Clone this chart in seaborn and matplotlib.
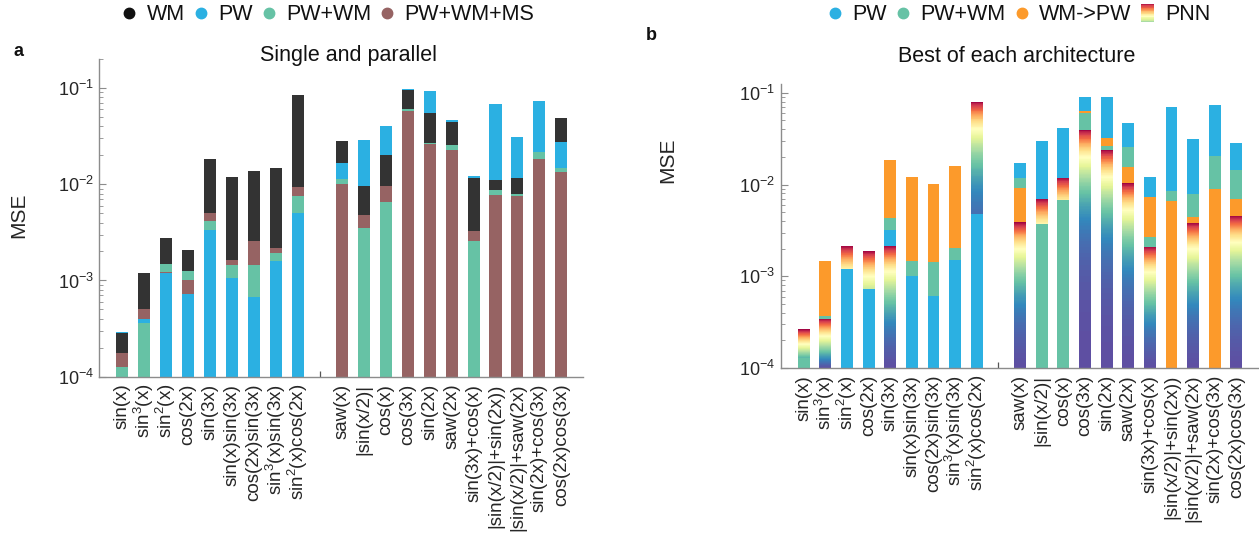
import numpy as np
import pandas as pd
import matplotlib
matplotlib.use("Agg")
import matplotlib.pyplot as plt
import seaborn as sns
from matplotlib.lines import Line2D
from matplotlib.patches import Rectangle
from matplotlib.legend_handler import HandlerBase
from matplotlib.ticker import LogLocator, NullFormatter, LogFormatterSciNotation

# ---------------------------------------------------------------- data
funcs_single = ['sin(x)', 'sin$^3$(x)', 'sin$^2$(x)', 'cos(2x)', 'sin(3x)',
                'sin(x)sin(3x)', 'cos(2x)sin(3x)', 'sin$^3$(x)sin(3x)',
                'sin$^2$(x)cos(2x)']
funcs_parallel = ['saw(x)', '|sin(x/2)|', 'cos(x)', 'cos(3x)', 'sin(2x)',
                  'saw(2x)', 'sin(3x)+cos(x)', '|sin(x/2)|+sin(2x))',
                  '|sin(x/2)|+saw(2x)', 'sin(2x)+cos(3x)', 'cos(2x)cos(3x)']
nan = np.nan

# panel a: single and parallel
a_wm = [2.85e-4, 1.20e-3, 2.73e-3, 2.05e-3, 1.82e-2, 1.19e-2, 1.36e-2, 1.49e-2, 8.39e-2,
        2.83e-2, 9.55e-3, 2.01e-2, 9.61e-2, 5.53e-2, 4.46e-2, 1.15e-2, 1.11e-2, 1.17e-2, nan, 4.87e-2]
a_pw = [2.92e-4, 3.94e-4, 1.19e-3, 7.20e-4, 3.36e-3, 1.05e-3, 6.80e-4, 1.60e-3, 5.05e-3,
        1.67e-2, 2.90e-2, 4.06e-2, 9.84e-2, 9.38e-2, 4.68e-2, 1.21e-2, 6.87e-2, 3.07e-2, 7.32e-2, 2.72e-2]
a_pw_wm = [1.27e-4, 3.64e-4, 1.49e-3, 1.25e-3, 4.13e-3, 1.44e-3, 1.44e-3, 1.95e-3, 7.58e-3,
           1.14e-2, 3.49e-3, 6.52e-3, 6.10e-2, 2.70e-2, 2.55e-2, 2.56e-3, 8.75e-3, 7.94e-3, 2.16e-2, 1.48e-2]
a_pw_wm_ms = [1.77e-4, 5.00e-4, 1.21e-3, 1.02e-3, 5.08e-3, 1.65e-3, 2.56e-3, 2.20e-3, 9.25e-3,
              1.00e-2, 4.77e-3, 9.55e-3, 5.72e-2, 2.61e-2, 2.25e-2, 3.30e-3, 7.70e-3, 7.46e-3, 1.85e-2, 1.33e-2]

# panel b: best of each architecture
b_pw = [nan, nan, 1.20e-3, 7.21e-4, 3.23e-3, 1.01e-3, 6.09e-4, 1.51e-3, 4.79e-3,
        1.72e-2, 2.99e-2, 4.15e-2, 8.98e-2, 8.98e-2, 4.67e-2, 1.22e-2, 6.98e-2, 3.15e-2, 7.40e-2, 2.82e-2]
b_pw_wm = [1.28e-4, 3.72e-4, nan, nan, 4.33e-3, 1.45e-3, 1.43e-3, 2.02e-3, nan,
           1.17e-2, 3.73e-3, 6.86e-3, 6.05e-2, 2.64e-2, 2.55e-2, 2.71e-3, 8.46e-3, 7.98e-3, 2.06e-2, 1.46e-2]
b_wm_to_pw = [nan, 1.47e-3, nan, nan, 1.86e-2, 1.20e-2, 1.02e-2, 1.61e-2, nan,
              9.12e-3, nan, nan, 6.41e-2, 3.26e-2, 1.56e-2, 7.28e-3, 6.64e-3, 4.44e-3, 8.89e-3, 6.92e-3]
b_pnn = [2.64e-4, 3.45e-4, 2.14e-3, 1.89e-3, 2.14e-3, nan, nan, nan, 8.03e-2,
         3.88e-3, 6.98e-3, 1.19e-2, 3.95e-2, 2.39e-2, 1.04e-2, 2.11e-3, nan, 3.85e-3, nan, 4.59e-3]

GAP = ' '
order = funcs_single + [GAP] + funcs_parallel
funcs = funcs_single + funcs_parallel

colors = {'WM': '#333333', 'PW': '#2bb0e2', 'PW+WM': '#66c2a5',
          'PW+WM+MS': '#966363', 'WM->PW': '#fc9a2b', 'PNN': '#d53e4f'}
YMIN = 1e-4


def long_table(series):
    rows = []
    for method, vals in series.items():
        for f, v in zip(funcs, vals):
            if np.isfinite(v):
                rows.append({'func': f, 'method': method, 'mse': v})
    return pd.DataFrame(rows)


df_a = long_table({'WM': a_wm, 'PW': a_pw, 'PW+WM': a_pw_wm, 'PW+WM+MS': a_pw_wm_ms})
df_b = long_table({'PW': b_pw, 'PW+WM': b_pw_wm, 'WM->PW': b_wm_to_pw, 'PNN': b_pnn})

# ---------------------------------------------------------------- style
sns.set_theme(style='white')
plt.rcParams['font.family'] = ['Liberation Sans', 'DejaVu Sans']
plt.rcParams['mathtext.default'] = 'regular'
TEXT = '#262626'
AXC = '#8c8c8c'

fig = plt.figure(figsize=(12.59, 5.33), dpi=100)
W, H = 1259, 533
ax_a = fig.add_axes([99.3 / W, 1 - 376.7 / H, 484 / W, 317.7 / H])
ax_b = fig.add_axes([781 / W, 1 - 368 / H, 477 / W, 284 / H])


def draw_panel(ax, df, methods, ytop):
    sns.barplot(data=df, x='func', y='mse', hue='method', order=order,
                hue_order=methods, palette={m: colors[m] for m in methods},
                dodge=False, width=0.55, saturation=1, errorbar=None,
                legend=False, ax=ax)
    ax.set_yscale('log')
    ax.set_ylim(YMIN, ytop)
    ax.set_xlim(-1.05, 21)

    pnn_rgb = np.array(matplotlib.colors.to_rgb(colors['PNN']))
    cmap = plt.get_cmap('Spectral_r')
    for p in list(ax.patches):
        h = p.get_height()
        if not np.isfinite(h) or h <= 0:
            continue
        # taller bars go behind, so every value shows as a band
        z = 1 + (-np.log10(h)) / 10
        p.set_zorder(z)
        p.set_linewidth(0)
        if 'PNN' in methods and np.allclose(p.get_facecolor()[:3], pnn_rgb):
            x0, w = p.get_x(), p.get_width()
            yedges = np.geomspace(YMIN, h, 300)
            yc = np.sqrt(yedges[:-1] * yedges[1:])
            c = ((yc - YMIN) / (h - YMIN)).reshape(-1, 1)
            ax.pcolormesh([x0, x0 + w], yedges, c, cmap=cmap, vmin=0, vmax=1,
                          shading='flat', edgecolors='none', antialiased=False,
                          zorder=z + 1e-5)
            p.set_alpha(0)

    ax.set_xticks(range(len(order)))
    ax.set_xticklabels(order, rotation=90, fontsize=13.5, color=TEXT)
    ax.set_xlabel('')
    ax.set_ylabel('')
    ax.yaxis.set_major_locator(LogLocator(base=10, numticks=10))
    ax.yaxis.set_major_formatter(LogFormatterSciNotation())
    ax.yaxis.set_minor_locator(LogLocator(base=10, subs=np.arange(2, 10), numticks=20))
    ax.yaxis.set_minor_formatter(NullFormatter())
    ax.tick_params(axis='x', which='major', bottom=True, direction='in', length=4,
                   width=0.9, color='#555555', pad=5, labelcolor=TEXT)
    ax.tick_params(axis='x', which='minor', bottom=False)
    ax.tick_params(axis='y', which='major', left=True, direction='in', length=5,
                   width=0.8, color=AXC, pad=4, labelsize=13, labelcolor=TEXT)
    ax.tick_params(axis='y', which='minor', left=True, direction='in', length=3,
                   width=0.6, color=AXC)
    for s in ('top', 'right'):
        ax.spines[s].set_visible(False)
    for s in ('left', 'bottom'):
        ax.spines[s].set_color(AXC)
        ax.spines[s].set_linewidth(1.0)


draw_panel(ax_a, df_a, ['WM', 'PW', 'PW+WM', 'PW+WM+MS'], 0.2)
draw_panel(ax_b, df_b, ['PW', 'PW+WM', 'WM->PW', 'PNN'], 0.125)

# ---------------------------------------------------------------- text
fig.text(19 / W, 1 - 215 / H, 'MSE', rotation=90, ha='center', va='center',
         fontsize=15, color=TEXT)
fig.text(668 / W, 1 - 160 / H, 'MSE', rotation=90, ha='center', va='center',
         fontsize=15, color=TEXT)
fig.text(348 / W, 1 - 61.5 / H, 'Single and parallel', ha='center',
         va='baseline', fontsize=15.5, color='#111111')
fig.text(1017 / W, 1 - 61.5 / H, 'Best of each architecture', ha='center',
         va='baseline', fontsize=15.5, color='#111111')
fig.text(18 / W, 1 - 52 / H, 'a', ha='center', va='center', fontsize=13,
         fontweight='bold', color='#111111')
fig.text(651 / W, 1 - 35 / H, 'b', ha='center', va='center', fontsize=13,
         fontweight='bold', color='#111111')


# ---------------------------------------------------------------- legends
class GradientKey:
    pass


class HandlerGradient(HandlerBase):
    def create_artists(self, legend, orig_handle, xdescent, ydescent,
                       width, height, fontsize, trans):
        n = 24
        cols = plt.get_cmap('Spectral_r')(np.linspace(0.3, 0.95, n))
        bw = height * 0.85
        bh = height * 1.2
        x0 = width / 2 - xdescent - bw / 2
        y0 = height / 2 - ydescent - bh / 2
        arts = []
        for i, col in enumerate(cols):
            r = Rectangle((x0, y0 + i * bh / n), bw, bh / n + 0.05,
                          facecolor=col, edgecolor='none', transform=trans)
            arts.append(r)
        return arts


def dot(c):
    return Line2D([], [], marker='o', linestyle='none', markersize=7.5,
                  markerfacecolor=c, markeredgecolor=c)


leg_kw = dict(loc='center', ncol=4, frameon=False, fontsize=15.5,
              handlelength=0.7, handletextpad=0.45, columnspacing=0.4,
              borderpad=0, labelcolor='#111111')
fig.legend([dot('#111111'), dot(colors['PW']), dot(colors['PW+WM']), dot(colors['PW+WM+MS'])],
           ['WM', 'PW', 'PW+WM', 'PW+WM+MS'],
           bbox_to_anchor=(328 / W, 1 - 15 / H), **leg_kw)
fig.legend([dot(colors['PW']), dot(colors['PW+WM']), dot(colors['WM->PW']), GradientKey()],
           ['PW', 'PW+WM', 'WM->PW', 'PNN'],
           handler_map={GradientKey: HandlerGradient()},
           bbox_to_anchor=(1019 / W, 1 - 15 / H), **leg_kw)

fig.savefig('out.png', dpi=100)
